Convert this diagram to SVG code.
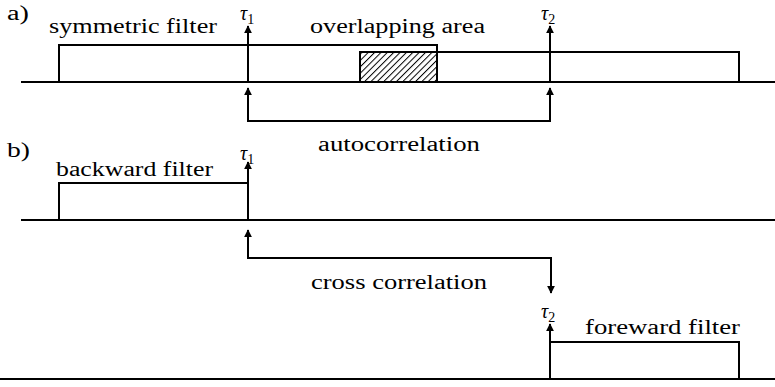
<svg xmlns="http://www.w3.org/2000/svg" width="775" height="387" viewBox="0 0 775 387">
<style>
.ln{fill:none;stroke:#000;stroke-width:2;stroke-linecap:butt;stroke-linejoin:miter}
text{font-family:'Liberation Serif','Times New Roman','DejaVu Serif',serif;fill:#000}
.t{font-size:20px}
.tau{font-size:20px;font-style:italic}
.sub{font-size:14px;font-style:normal}
</style>
<defs>
<marker id="ah" viewBox="0 0 10 10" refX="9" refY="5" markerWidth="4" markerHeight="4" orient="auto" markerUnits="strokeWidth">
<path d="M0,0 L10,5 L0,10 Z" fill="#000"/>
</marker>
<pattern id="hatch" patternUnits="userSpaceOnUse" width="4.5" height="4.5" patternTransform="rotate(45)">
<line x1="0" y1="0" x2="0" y2="4.5" stroke="#000" stroke-width="2"/>
</pattern>
</defs>
<rect width="775" height="387" fill="#fff"/>

<g id="panel-a">
<text class="t" x="7" y="20" textLength="22" lengthAdjust="spacingAndGlyphs">a)</text>
<g id="baseline-a"><line class="ln" x1="21" y1="82" x2="775" y2="82"/></g>
<g id="overlap">
<rect x="360" y="52" width="77" height="30" fill="url(#hatch)" stroke="#000" stroke-width="2"/>
<text class="t" x="310" y="33" textLength="175" lengthAdjust="spacingAndGlyphs">overlapping area</text>
</g>
<g id="symmetric-filter">
<polyline class="ln" points="59,82 59,45 437,45 437,82"/>
<polyline class="ln" points="360,82 360,52 739,52 739,82"/>
<text class="t" x="49" y="33" textLength="168" lengthAdjust="spacingAndGlyphs">symmetric filter</text>
</g>
<g id="tau1-a">
<text class="tau" x="240" y="20">τ<tspan class="sub" dy="4">1</tspan></text>
</g>
<g id="tau2-a">
<text class="tau" x="541" y="20">τ<tspan class="sub" dy="4">2</tspan></text>
</g>
<g id="autocorr-label"><text class="t" x="318" y="151" textLength="162" lengthAdjust="spacingAndGlyphs">autocorrelation</text></g>
</g>

<g id="panel-b">
<text class="t" x="7" y="157" textLength="23" lengthAdjust="spacingAndGlyphs">b)</text>
<g id="baseline-b1"><line class="ln" x1="21" y1="220" x2="775" y2="220"/></g>
<g id="backward-filter">
<polyline class="ln" points="59,220 59,183 248,183"/>
<text class="t" x="56" y="176" textLength="157" lengthAdjust="spacingAndGlyphs">backward filter</text>
</g>
<g id="tau1-b"><text class="tau" x="240" y="160">τ<tspan class="sub" dy="4">1</tspan></text></g>
<g id="crosscorr-label"><text class="t" x="311" y="289" textLength="176" lengthAdjust="spacingAndGlyphs">cross correlation</text></g>
<g id="tau2-b"><text class="tau" x="541" y="318">τ<tspan class="sub" dy="4">2</tspan></text></g>
<g id="baseline-b2"><line class="ln" x1="0" y1="379" x2="775" y2="379"/></g>
<g id="foreward-filter">
<polyline class="ln" points="550,342 739,342 739,379"/>
<text class="t" x="585" y="334" textLength="155" lengthAdjust="spacingAndGlyphs">foreward filter</text>
</g>
</g>

<g id="connectors">
<line class="ln" x1="248" y1="82" x2="248" y2="26" marker-end="url(#ah)"/>
<line class="ln" x1="550" y1="82" x2="550" y2="26" marker-end="url(#ah)"/>
<polyline class="ln" points="248,121 550,121" />
<line class="ln" x1="248" y1="122" x2="248" y2="88" marker-end="url(#ah)"/>
<line class="ln" x1="550" y1="122" x2="550" y2="88" marker-end="url(#ah)"/>
<line class="ln" x1="248" y1="220" x2="248" y2="162" marker-end="url(#ah)"/>
<polyline class="ln" points="248,232 248,258 551,258 551,293" marker-end="url(#ah)"/>
<line class="ln" x1="248" y1="258" x2="248" y2="230" marker-end="url(#ah)"/>
<line class="ln" x1="550" y1="379" x2="550" y2="324" marker-end="url(#ah)"/>
</g>
</svg>
